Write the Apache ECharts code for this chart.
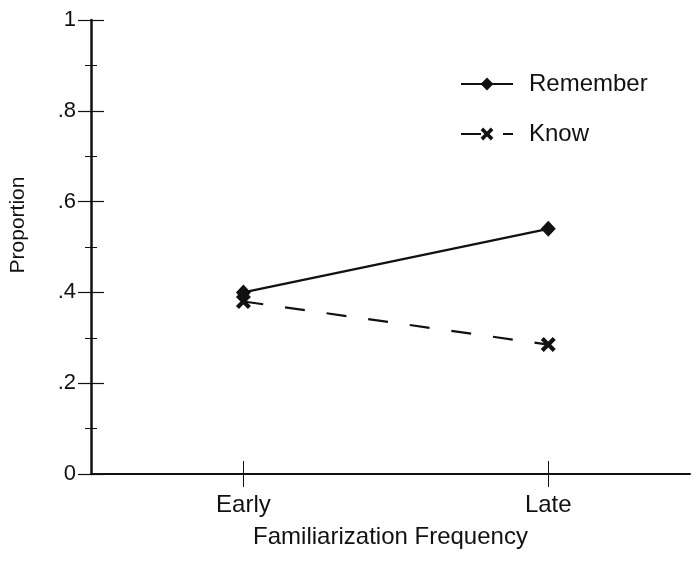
<!DOCTYPE html>
<html>
<head>
<meta charset="utf-8">
<script src="https://cdn.jsdelivr.net/npm/echarts@6/dist/echarts.min.js"></script>
<style>
html,body{margin:0;padding:0;background:#fff;}
#chart{width:698px;height:562px;}
</style>
</head>
<body>
<div id="chart"></div>
<script>
const categories = ['Early', 'Late'];
const remember = [0.40, 0.54];
const know = [0.38, 0.285];
const yTickLabels = ['0', '.2', '.4', '.6', '.8', '1'];
const seriesNames = ['Remember', 'Know'];

const FONT = '"Liberation Sans", Arial, Helvetica, sans-serif';
const toPts = vals => vals.map((v, i) => [i + 1, v]);
const xPath = 'path://M0,2 L2,0 L5,3 L8,0 L10,2 L7,5 L10,8 L8,10 L5,7 L2,10 L0,8 L3,5 Z';

const chart = echarts.init(document.getElementById('chart'), null, {renderer: 'canvas'});
const xBase = {
  type: 'value', min: 0.5, max: 2.465,
  splitLine: {show: false}
};
const yBase = {
  type: 'value', min: 0, max: 1, interval: 0.2,
  splitLine: {show: false}
};
chart.setOption({
  animation: false,
  backgroundColor: '#fff',
  grid: {left: 90, top: 20, right: 8, bottom: 88, containLabel: false},
  legend: {
    orient: 'vertical', left: 455, top: 67,
    itemWidth: 52, itemHeight: 16, itemGap: 26,
    data: seriesNames,
    textStyle: {fontFamily: FONT, fontSize: 24, color: '#111', padding: [0, 0, 0, 11]}
  },
  xAxis: [
    Object.assign({}, xBase, {
      name: 'Familiarization Frequency', nameLocation: 'middle', nameGap: 51,
      nameTextStyle: {fontFamily: FONT, fontSize: 24, color: '#111'},
      axisLine: {show: true, onZero: false, lineStyle: {color: '#111', width: 2}},
      axisTick: {show: true, inside: false, length: 13, customValues: [1, 2], lineStyle: {color: '#111', width: 1}},
      axisLabel: {show: true, margin: 19, customValues: [1, 2], fontFamily: FONT, fontSize: 24, color: '#111',
        formatter: v => categories[Math.round(v) - 1] || ''}
    }),
    Object.assign({}, xBase, {
      position: 'bottom',
      axisLine: {show: false},
      axisTick: {show: true, inside: true, length: 13, customValues: [1, 2], lineStyle: {color: '#111', width: 1}},
      axisLabel: {show: false}
    })
  ],
  yAxis: [
    Object.assign({}, yBase, {
      name: 'Proportion', nameLocation: 'middle', nameGap: 62,
      nameTextStyle: {fontFamily: FONT, fontSize: 21, color: '#111', padding: [0, 0, 0, 44]},
      axisLine: {show: true, onZero: false, lineStyle: {color: '#111', width: 2.5}},
      axisTick: {show: true, inside: false, length: 13, lineStyle: {color: '#111', width: 1.2}},
      minorTick: {show: true, splitNumber: 2, length: 6, lineStyle: {color: '#111', width: 1}},
      axisLabel: {show: true, margin: 15, fontFamily: FONT, fontSize: 22, color: '#111',
        formatter: v => yTickLabels[Math.round(v / 0.2)]}
    }),
    Object.assign({}, yBase, {
      position: 'left',
      axisLine: {show: false},
      axisTick: {show: true, inside: true, length: 13, lineStyle: {color: '#111', width: 1.2}},
      minorTick: {show: true, splitNumber: 2, length: 6, lineStyle: {color: '#111', width: 1}},
      axisLabel: {show: false}
    })
  ],
  series: [
    {
      name: seriesNames[0], type: 'line', data: toPts(remember),
      symbol: 'diamond', symbolSize: [15, 16],
      lineStyle: {color: '#111', width: 2.2, type: 'solid'},
      itemStyle: {color: '#111'}
    },
    {
      name: seriesNames[1], type: 'line', data: toPts(know),
      symbol: xPath, symbolSize: 15,
      lineStyle: {color: '#111', width: 2.2, type: [20, 22]},
      itemStyle: {color: '#111'}
    }
  ]
});
</script>
</body>
</html>
